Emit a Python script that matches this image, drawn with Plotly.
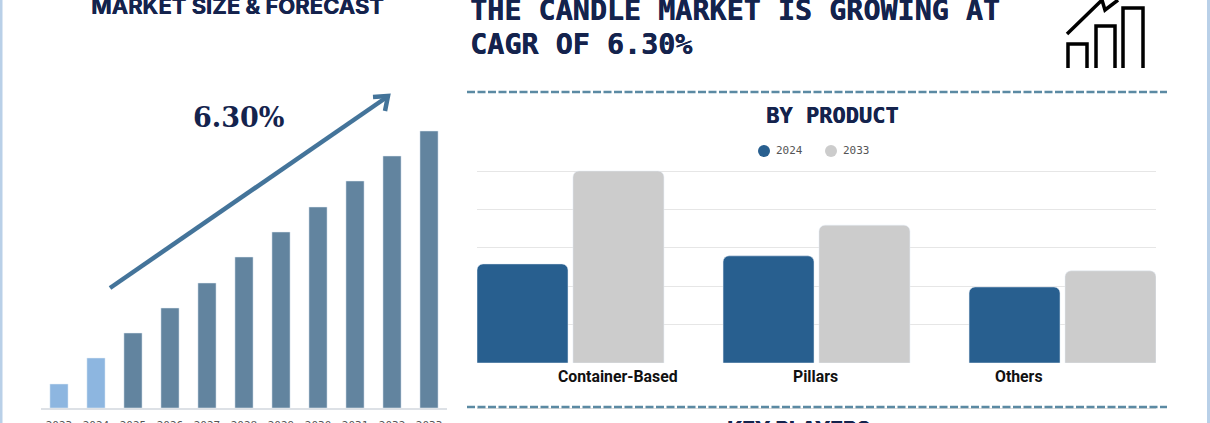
import plotly.graph_objects as go

W, H = 1210, 423

# market size bars (relative units, the reference shows no value axis)
years = ['2023', '2024', '2025', '2026', '2027', '2028', '2029', '2030', '2031', '2032', '2033']
market_size = [24, 50, 75, 100, 125, 151, 176, 201, 227, 252, 277]

# by product, grouped bars
products = ['Container-Based', 'Pillars', 'Others']
values_2024 = [2.58, 2.79, 1.98]
values_2033 = [5.0, 3.59, 2.40]

NAVY = '#14234d'
BLUE = '#285f8f'
GREY = '#cccccc'
LIGHT_BAR = '#8db6e0'
DARK_BAR = '#62849f'
ARROW = '#44749a'
DASH = '#5b8aa3'
EDGE = '#b9d0e8'
MONO = 'DejaVu Sans Mono'


def px(x):
    return x / W


def py(y):
    return 1 - y / H


def line_path(points):
    return 'M ' + ' L '.join(f'{px(x):.5f},{py(y):.5f}' for x, y in points)


fig = go.Figure()

fig.add_trace(go.Bar(
    x=years, y=market_size, width=0.49,
    marker_color=[LIGHT_BAR, LIGHT_BAR] + [DARK_BAR] * 9,
    showlegend=False, xaxis='x', yaxis='y'
))

fig.add_trace(go.Bar(
    x=products, y=values_2024, name='2024', marker=dict(color=BLUE, cornerradius=6),
    showlegend=False, xaxis='x2', yaxis='y2'
))
fig.add_trace(go.Bar(
    x=products, y=values_2033, name='2033', marker=dict(color=GREY, cornerradius=6),
    showlegend=False, xaxis='x2', yaxis='y2'
))

shapes = [
    # page edges
    dict(type='rect', xref='paper', yref='paper', x0=0, x1=px(2.5), y0=0, y1=1,
         fillcolor=EDGE, line_width=0),
    dict(type='rect', xref='paper', yref='paper', x0=px(1207), x1=1, y0=0, y1=1,
         fillcolor=EDGE, line_width=0),
    # dashed separators
    dict(type='line', xref='paper', yref='paper', x0=px(467), x1=px(1167), y0=py(92), y1=py(92),
         line=dict(color=DASH, width=2.5, dash='8px,2.5px')),
    dict(type='line', xref='paper', yref='paper', x0=px(467), x1=px(1167), y0=py(407), y1=py(407),
         line=dict(color=DASH, width=2.5, dash='8px,2.5px')),
    # growth arrow
    dict(type='path', xref='paper', yref='paper', path=line_path([(110, 288), (387, 97)]),
         line=dict(color=ARROW, width=4.5)),
    dict(type='path', xref='paper', yref='paper', path=line_path([(373, 97), (388, 96), (385, 111)]),
         line=dict(color=ARROW, width=4.5)),
]

# hand drawn legend dots, the plotly legend keeps too wide a gap to the text
for cx, color in [(764, BLUE), (831, GREY)]:
    shapes.append(dict(type='circle', xref='paper', yref='paper',
                       x0=px(cx - 6), x1=px(cx + 6), y0=py(151 + 6), y1=py(151 - 6),
                       fillcolor=color, line_width=0))

# bar chart icon, top right
icon_parts = [
    [(1068, 68), (1068, 44), (1087, 44), (1087, 68)],
    [(1096, 68), (1096, 26), (1115, 26), (1115, 68)],
    [(1123, 68), (1123, 8), (1143, 8), (1143, 68)],
    [(1067, 34), (1102, 0), (1105, 10), (1118, 0)],
]
for part in icon_parts:
    shapes.append(dict(type='path', xref='paper', yref='paper', path=line_path(part),
                       line=dict(color='black', width=3.5)))

annotations = []


def add_text(text, x, y, size, family, color=NAVY, bold=True, shadow=None):
    font = dict(size=size, family=family, color=color)
    if shadow:
        font['shadow'] = shadow
    annotations.append(dict(
        text=f'<b>{text}</b>' if bold else text,
        xref='paper', yref='paper', x=px(x), y=py(y), xanchor='center', yanchor='middle',
        showarrow=False, font=font
    ))


heavy = f'0.5px 0 0 {NAVY}'
add_text('MARKET SIZE &amp; FORECAST', 237, 6, 22, 'Inter', shadow=heavy)
add_text('6.30%', 238, 118, 27, 'DejaVu Serif')
add_text('THE CANDLE MARKET IS GROWING AT', 734.5, 10, 28.4, MONO, shadow=heavy)
add_text('CAGR OF 6.30%', 581, 44, 28.4, MONO, shadow=heavy)
add_text('BY PRODUCT', 832, 115, 22, MONO, shadow=heavy)
add_text('KEY PLAYERS', 798, 430, 21, 'Inter', shadow=heavy)
add_text('2024', 789, 151, 11, MONO, color='#555555', bold=False)
add_text('2033', 856, 151, 11, MONO, color='#555555', bold=False)

# the category labels do not sit under the bar groups in the reference
for name, cx in zip(products, [618, 816, 1019]):
    add_text(name, cx, 376, 15.8, 'Roboto', color='#111111')

fig.update_layout(
    width=W, height=H,
    margin=dict(l=0, r=0, t=0, b=0),
    paper_bgcolor='white', plot_bgcolor='white',
    barmode='group', bargap=0.22, bargroupgap=0.052,
    shapes=shapes, annotations=annotations,
    xaxis=dict(domain=[px(41), px(447)], range=[-0.486, 10.486], type='category',
               automargin=False,
               showgrid=False, showline=True, linecolor='#dde1e6', linewidth=1.5,
               ticks='', tickfont=dict(size=11, color='#555555', family=MONO),
               ticklabelstandoff=6),
    yaxis=dict(domain=[py(408), py(128)], range=[0, 280], visible=False),
    xaxis2=dict(domain=[px(477), px(1156)], range=[-0.38, 2.38], type='category',
                automargin=False,
                showgrid=False, showline=True, linecolor='#dddddd', showticklabels=False, ticks=''),
    # range runs a bit past 5 so the top gridline still gets drawn
    yaxis2=dict(domain=[py(363), py(169.08)], range=[0, 5.05], anchor='x2', dtick=1,
                showgrid=True, gridcolor='#e6e6e6', gridwidth=1, zeroline=False,
                showticklabels=False, ticks=''),
)

fig.write_html(
    "out.html",
    config={'displayModeBar': False},
    post_script="document.body.style.margin='0';document.body.style.overflow='hidden';",
)
